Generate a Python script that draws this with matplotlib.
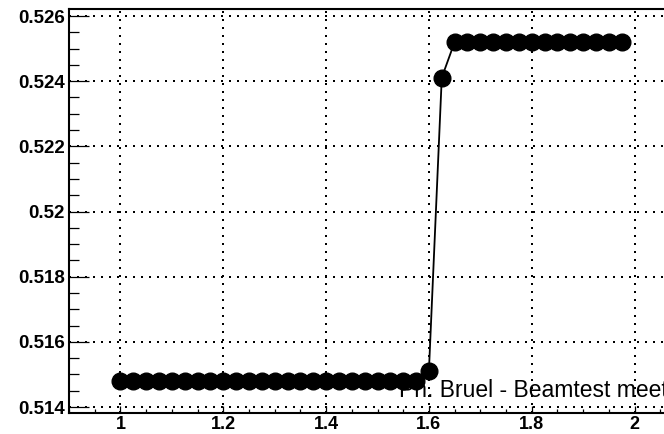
import numpy as np
import matplotlib
matplotlib.use("Agg")
import matplotlib.pyplot as plt
from matplotlib.ticker import MultipleLocator, FuncFormatter

# Data
x_low = [1.0, 1.025, 1.05, 1.075, 1.1, 1.125, 1.15, 1.175, 1.2, 1.225, 1.25, 1.275,
         1.3, 1.325, 1.35, 1.375, 1.4, 1.425, 1.45, 1.475, 1.5, 1.525, 1.55, 1.575]
y_low = [0.5148] * len(x_low)
x_mid = [1.6, 1.625]
y_mid = [0.51511, 0.52411]
x_high = [1.65, 1.675, 1.7, 1.725, 1.75, 1.775, 1.8, 1.825, 1.85, 1.875, 1.9, 1.925, 1.95, 1.975]
y_high = [0.5252] * len(x_high)

x_vals = x_low + x_mid + x_high
y_vals = y_low + y_mid + y_high

x_ticks = [1.0, 1.2, 1.4, 1.6, 1.8, 2.0]
y_ticks = [0.514, 0.516, 0.518, 0.520, 0.522, 0.524, 0.526]
annotation = "Ph. Bruel - Beamtest meeting"

plt.rcParams['font.family'] = ['Liberation Sans', 'DejaVu Sans']

fig = plt.figure(figsize=(6.64, 4.34), dpi=100)
ax = fig.add_axes([69/664, 21/434, 617/664, 404/434])
ax.set_xlim(0.9, 2.1)
ax.set_ylim(0.513816, 0.526215)

ax.plot(x_vals, y_vals, color='black', lw=1.3, marker='o', markersize=12,
        markerfacecolor='black', markeredgecolor='black', zorder=3, clip_on=False)

ax.set_xticks(x_ticks)
ax.set_yticks(y_ticks)
ax.xaxis.set_minor_locator(MultipleLocator(0.05))
ax.yaxis.set_minor_locator(MultipleLocator(0.0005))

def fmt(v, pos):
    s = ('%.3f' % v).rstrip('0').rstrip('.')
    return s
ax.yaxis.set_major_formatter(FuncFormatter(fmt))
ax.xaxis.set_major_formatter(FuncFormatter(lambda v, p: ('%.1f' % v).rstrip('0').rstrip('.')))

ax.grid(True, which='major', color='black', linestyle=(0, (1, 3)), linewidth=1.44)

for side in ['left', 'bottom', 'top', 'right']:
    ax.spines[side].set_linewidth(1.5)
    ax.spines[side].set_color('black')

ax.tick_params(axis='y', which='major', direction='in', length=14.4, width=0.9, pad=3)
ax.tick_params(axis='y', which='minor', direction='in', length=7.2, width=0.9)
ax.tick_params(axis='x', which='major', direction='in', length=5, width=0.9, pad=2.5)
ax.tick_params(axis='x', which='minor', direction='in', length=2.9, width=0.9)

for lab in ax.get_yticklabels():
    lab.set_fontweight('bold')
    lab.set_fontsize(13.5)
for lab in ax.get_xticklabels():
    lab.set_fontweight('bold')
    lab.set_fontsize(13)

fig.text(399/664, 37/434, annotation, fontsize=16.5, color='black',
         ha='left', va='baseline', zorder=5)

fig.savefig('out.png', dpi=100)
